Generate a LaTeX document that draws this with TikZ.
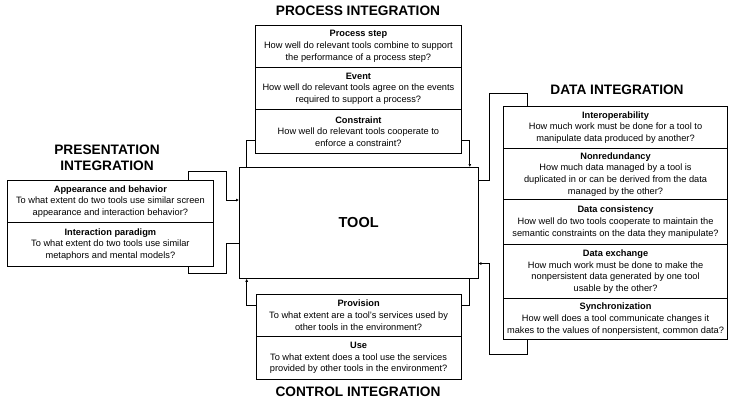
\documentclass[tikz,border=0pt]{standalone}
\usepackage{fontspec}
\setmainfont{Liberation Sans}
\usetikzlibrary{arrows.meta,calc}

\begin{document}
\begin{tikzpicture}[x=1pt,y=-1pt,
  cell/.style={draw, line width=0.8pt, inner sep=0pt, align=center, anchor=north west,
    font=\fontsize{9.25}{11.7}\selectfont},
  head/.style={font=\fontsize{13.7}{15.5}\selectfont\bfseries, align=center},
  link/.style={line width=0.8pt},
  into/.style={link, -{Latex[length=3pt,width=3pt]}}]
\useasboundingbox (0,0) rectangle (730,400);

% ---- central tool box ----
\node[draw, line width=0.8pt, anchor=north west, minimum width=238.5pt, minimum height=111pt,
  inner sep=0pt, font=\fontsize{14.5}{16}\selectfont\bfseries] (tool) at (239,167) {TOOL};

% ---- process integration ----
\node[head] (phead) at (358,11) {PROCESS INTEGRATION};
\node[cell, minimum width=206pt, minimum height=42pt] (p1) at (255,25)
  {\textbf{Process step}\\How well do relevant tools combine to support\\the performance of a process step?};
\node[cell, minimum width=206pt, minimum height=42.3pt] (p2) at (255,67)
  {\textbf{Event}\\How well do relevant tools agree on the events\\required to support a process?};
\node[cell, minimum width=206pt, minimum height=43.4pt] (p3) at (255,109.3)
  {\textbf{Constraint}\\How well do relevant tools cooperate to\\enforce a constraint?};

% ---- presentation integration ----
\node[head] (prhead) at (107,158) {PRESENTATION\\INTEGRATION};
\node[cell, minimum width=206pt, minimum height=42pt] (pr1) at (7,180)
  {\textbf{Appearance and behavior}\\To what extent do two tools use similar screen\\appearance and interaction behavior?};
\node[cell, minimum width=206pt, minimum height=44pt] (pr2) at (7,222)
  {\textbf{Interaction paradigm}\\To what extent do two tools use similar\\metaphors and mental models?};

% ---- data integration ----
\node[head] (dhead) at (617,90) {DATA INTEGRATION};
\node[cell, minimum width=223.7pt, minimum height=42.6pt] (d1) at (503.3,105.7)
  {\textbf{Interoperability}\\How much work must be done for a tool to\\manipulate data produced by another?};
\node[cell, minimum width=223.7pt, minimum height=51pt] (d2) at (503.3,148.3)
  {\textbf{Nonredundancy}\\How much data managed by a tool is\\duplicated in or can be derived from the data\\managed by the other?};
\node[cell, minimum width=223.7pt, minimum height=44.7pt] (d3) at (503.3,199.3)
  {\textbf{Data consistency}\\How well do two tools cooperate to maintain the\\semantic constraints on the data they manipulate?};
\node[cell, minimum width=223.7pt, minimum height=54.3pt] (d4) at (503.3,244)
  {\textbf{Data exchange}\\How much work must be done to make the\\nonpersistent data generated by one tool\\usable by the other?};
\node[cell, minimum width=223.7pt, minimum height=41pt] (d5) at (503.3,298.3)
  {\textbf{Synchronization}\\How well does a tool communicate changes it\\makes to the values of nonpersistent, common data?};

% ---- control integration ----
\node[cell, minimum width=205pt, minimum height=41.7pt] (c1) at (255.7,294)
  {\textbf{Provision}\\To what extent are a tool's services used by\\other tools in the environment?};
\node[cell, minimum width=205pt, minimum height=43.6pt] (c2) at (255.7,335.7)
  {\textbf{Use}\\To what extent does a tool use the services\\provided by other tools in the environment?};
\node[head] (chead) at (358,392) {CONTROL INTEGRATION};

% ---- bend points of the connectors ----
\coordinate (prUp) at (226,171.7);
\coordinate (prDown) at (226,273.3);
\coordinate (dUp) at (489,93.3);
\coordinate (dDown) at (489,354);

% process <-> tool
\draw[link] ($(p3.south west)+(0,-12.7)$) -| ($(tool.north west)+(7.7,0)$);
\draw[into] ($(p3.south east)+(0,-12.7)$) -| ($(tool.north east)+(-8.5,0)$);

% presentation <-> tool
\draw[into] ($(pr1.north west)+(181.3,0)$) |- (prUp) |- ($(tool.north west)+(0,33)$);
\draw[link] ($(pr2.south west)+(181.3,0)$) |- (prDown) |- ($(tool.north west)+(0,76.3)$);

% data <-> tool
\draw[link] ($(d1.north west)+(24.4,0)$) |- (dUp) |- ($(tool.north east)+(0,13)$);
\draw[into] ($(d5.south west)+(24.4,0)$) |- (dDown) |- ($(tool.north east)+(0,96.5)$);

% control <-> tool
\draw[into] ($(c1.north west)+(0,11.7)$) -| ($(tool.south west)+(7.7,0)$);
\draw[link] ($(c1.north east)+(0,11.7)$) -| ($(tool.south east)+(-8.5,0)$);
\end{tikzpicture}
\end{document}
